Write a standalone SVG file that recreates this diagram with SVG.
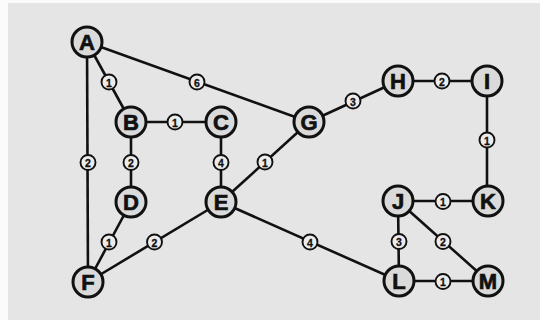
<svg xmlns="http://www.w3.org/2000/svg" width="540" height="320" viewBox="0 0 540 320">
  <style>
    .edge { stroke: #111; stroke-width: 2.6; fill: none; }
    .node circle { fill: #dadada; stroke: #111; stroke-width: 3; }
    .node text { font-family: "Liberation Sans", Arial, sans-serif; font-weight: bold; font-size: 22px; fill: #111; stroke: #111; stroke-width: 0.7; text-anchor: middle; dominant-baseline: central; }
    .w circle { fill: #ececec; stroke: #111; stroke-width: 1.9; }
    .w text { font-family: "Liberation Sans", Arial, sans-serif; font-weight: bold; font-size: 10.5px; fill: #111; stroke: #111; stroke-width: 0.3; text-anchor: middle; dominant-baseline: central; }
  </style>
  <rect x="0" y="0" width="540" height="320" fill="#fbfbfb"/>
  <rect x="8" y="3" width="532" height="317" fill="#e5e5e5"/>

  <g id="connectors">
    <line class="edge" x1="87" y1="42" x2="131" y2="122"/>
    <line class="edge" x1="87" y1="42" x2="309" y2="122"/>
    <line class="edge" x1="87" y1="42" x2="88" y2="282"/>
    <line class="edge" x1="131" y1="122" x2="221" y2="122"/>
    <line class="edge" x1="131" y1="122" x2="131" y2="202"/>
    <line class="edge" x1="221" y1="122" x2="221" y2="202"/>
    <line class="edge" x1="131" y1="202" x2="88" y2="282"/>
    <line class="edge" x1="221" y1="202" x2="88" y2="282"/>
    <line class="edge" x1="221" y1="202" x2="309" y2="122"/>
    <line class="edge" x1="221" y1="202" x2="399" y2="281"/>
    <line class="edge" x1="309" y1="122" x2="398" y2="81"/>
    <line class="edge" x1="398" y1="81" x2="487" y2="81"/>
    <line class="edge" x1="487" y1="81" x2="487" y2="201"/>
    <line class="edge" x1="398" y1="201" x2="487" y2="201"/>
    <line class="edge" x1="398" y1="201" x2="399" y2="281"/>
    <line class="edge" x1="398" y1="201" x2="488" y2="281"/>
    <line class="edge" x1="399" y1="281" x2="488" y2="281"/>

    <g class="w"><circle cx="109" cy="82" r="7.5"/><text x="109" y="82.5">1</text></g>
    <g class="w"><circle cx="197" cy="82" r="7.5"/><text x="197" y="82.5">6</text></g>
    <g class="w"><circle cx="175" cy="122" r="7.5"/><text x="175" y="122.5">1</text></g>
    <g class="w"><circle cx="88" cy="162.5" r="7.5"/><text x="88" y="163">2</text></g>
    <g class="w"><circle cx="131" cy="162.5" r="7.5"/><text x="131" y="163">2</text></g>
    <g class="w"><circle cx="221" cy="162.5" r="7.5"/><text x="221" y="163">4</text></g>
    <g class="w"><circle cx="109" cy="242" r="7.5"/><text x="109" y="242.5">1</text></g>
    <g class="w"><circle cx="154.5" cy="242" r="7.5"/><text x="154.5" y="242.5">2</text></g>
    <g class="w"><circle cx="265" cy="162" r="7.5"/><text x="265" y="162.5">1</text></g>
    <g class="w"><circle cx="310" cy="242" r="7.5"/><text x="310" y="242.5">4</text></g>
    <g class="w"><circle cx="353" cy="101" r="7.5"/><text x="353" y="101.5">3</text></g>
    <g class="w"><circle cx="442" cy="81" r="7.5"/><text x="442" y="81.5">2</text></g>
    <g class="w"><circle cx="487" cy="140" r="7.5"/><text x="487" y="140.5">1</text></g>
    <g class="w"><circle cx="443" cy="201.5" r="7.5"/><text x="443" y="202">1</text></g>
    <g class="w"><circle cx="399" cy="241.5" r="7.5"/><text x="399" y="242">3</text></g>
    <g class="w"><circle cx="443" cy="241.5" r="7.5"/><text x="443" y="242">2</text></g>
    <g class="w"><circle cx="443" cy="281.5" r="7.5"/><text x="443" y="282">1</text></g>
  </g>

  <g id="node-A" class="node"><circle cx="87" cy="42" r="15"/><text x="87" y="42">A</text></g>
  <g id="node-B" class="node"><circle cx="131" cy="122" r="15"/><text x="131" y="122">B</text></g>
  <g id="node-C" class="node"><circle cx="221" cy="122" r="15"/><text x="221" y="122">C</text></g>
  <g id="node-D" class="node"><circle cx="131" cy="202" r="15"/><text x="131" y="202">D</text></g>
  <g id="node-E" class="node"><circle cx="221" cy="202" r="15"/><text x="221" y="202">E</text></g>
  <g id="node-F" class="node"><circle cx="88" cy="282" r="15"/><text x="88" y="282">F</text></g>
  <g id="node-G" class="node"><circle cx="309" cy="122" r="15"/><text x="309" y="122">G</text></g>
  <g id="node-H" class="node"><circle cx="398" cy="81" r="15"/><text x="398" y="81">H</text></g>
  <g id="node-I" class="node"><circle cx="487" cy="81" r="15"/><text x="487" y="81">I</text></g>
  <g id="node-J" class="node"><circle cx="398" cy="201" r="15"/><text x="398" y="201">J</text></g>
  <g id="node-K" class="node"><circle cx="488" cy="201" r="15"/><text x="488" y="201">K</text></g>
  <g id="node-L" class="node"><circle cx="399" cy="281" r="15"/><text x="399" y="281">L</text></g>
  <g id="node-M" class="node"><circle cx="488" cy="281" r="15"/><text x="488" y="281">M</text></g>
</svg>
